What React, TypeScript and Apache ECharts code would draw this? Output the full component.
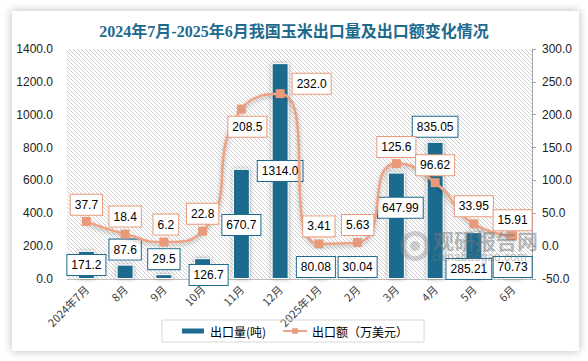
import React, { useEffect, useRef } from "react";
import * as echarts from "echarts";

const categories = ["2024年7月", "8月", "9月", "10月", "11月", "12月", "2025年1月", "2月", "3月", "4月", "5月", "6月"];
const exportVolume = [171.2, 87.6, 29.5, 126.7, 670.7, 1314.0, 80.08, 30.04, 647.99, 835.05, 285.21, 70.73];
const exportValue = [37.7, 18.4, 6.2, 22.8, 208.5, 232.0, 3.41, 5.63, 125.6, 96.62, 33.95, 15.91];
const leftTicks = { min: 0, max: 1400, interval: 200 };
const rightTicks = { min: -50, max: 300, interval: 50 };
const seriesNames = ["出口量(吨)", "出口额（万美元）"];
const titleText = "2024年7月-2025年6月我国玉米出口量及出口额变化情况";

// label placement (layout only)
const barLabelPos = ["insideBottom", "top", "top", "insideBottom", "inside", "inside", "insideBottom", "insideBottom", "inside", "top", "insideBottom", "insideBottom"];
const barLabelOffset = [[0, 1], [0, 0], [0, 0], [6, 11], [0, 1], [0, 0], [-3, 3], [0, 3], [4, -18], [0, 0], [-5, 5], [0, 3]];
const lineLabelPos = ["top", "top", "top", "top", "bottom", "right", "top", "top", "top", "top", "top", "top"];
const lineLabelOffset = [[0, 1], [0, 0], [2, 0], [0, 0], [6, 0], [5, -10], [0, 0], [0, 0], [0, 1], [0, 0], [0, 0], [0, 2]];

const BAR = "#1d6b8e";
const LINE = "#eca283";
const MARK = "#e99a7a";

function fmt(v: number) {
  return Number.isInteger(v) ? v.toFixed(1) : String(v);
}

function hatchPattern(): any {
  const c = document.createElement("canvas");
  c.width = 4;
  c.height = 4;
  const ctx = c.getContext("2d")!;
  ctx.fillStyle = "#ffffff";
  ctx.fillRect(0, 0, 4, 4);
  ctx.fillStyle = "#cfcfcf";
  for (let i = 0; i < 4; i++) ctx.fillRect(i, i, 1, 1);
  return { image: c.toDataURL(), repeat: "repeat", imageWidth: 4, imageHeight: 4 };
}

export default function App() {
  const ref = useRef<HTMLDivElement>(null);
  useEffect(() => {
    document.body.style.margin = "0";
    const chart = echarts.init(ref.current!, null, { renderer: "svg" });
    const labelFont = { fontSize: 12, color: "#000", fontFamily: "Liberation Sans, Arial, sans-serif" };
    const wmZ = 100;
    chart.setOption({
      animation: false,
      title: {
        text: titleText,
        left: "center",
        top: 23,
        padding: 0,
        textStyle: { fontFamily: "Liberation Serif, 'Noto Sans CJK SC', serif", fontWeight: "bold", fontSize: 16, color: "#1e6a8d" },
      },
      legend: {
        top: 320,
        left: "center",
        data: [{ name: seriesNames[0], icon: "rect" }, { name: seriesNames[1] }],
        itemWidth: 24,
        itemHeight: 7,
        itemGap: 16,
        padding: [5, 16, 5, 18],
        borderColor: "#d9d9d9",
        borderWidth: 1,
        textStyle: { fontSize: 12, color: "#000", fontFamily: "'Noto Sans CJK SC', sans-serif" },
      },
      grid: { left: 67, right: 56, top: 49, bottom: 82, show: true, borderWidth: 0, backgroundColor: hatchPattern() },
      xAxis: {
        type: "category",
        data: categories,
        axisLine: { onZero: false, lineStyle: { color: "#bfbfbf", width: 1 } },
        axisTick: { show: false },
        axisLabel: { rotate: 45, margin: 8, fontSize: 11, color: "#404040", interval: 0, fontFamily: "'Noto Sans CJK SC', sans-serif" },
      },
      yAxis: [
        {
          type: "value",
          ...leftTicks,
          axisLine: { show: false },
          axisTick: { show: false },
          splitLine: { show: false },
          axisLabel: { margin: 14, fontSize: 12, color: "#222", formatter: (v: number) => v.toFixed(1), fontFamily: "Liberation Sans, Arial, sans-serif" },
        },
        {
          type: "value",
          ...rightTicks,
          position: "right",
          axisLine: { show: true, lineStyle: { color: "#a6a6a6" } },
          axisTick: { show: true, length: 4, lineStyle: { color: "#a6a6a6" } },
          splitLine: { show: false },
          axisLabel: { margin: 10, fontSize: 12, color: "#222", formatter: (v: number) => v.toFixed(1), fontFamily: "Liberation Sans, Arial, sans-serif" },
        },
      ],
      graphic: [
        {
          type: "group",
          left: 400,
          top: 229,
          silent: true,
          z: wmZ,
          children: [
            { type: "ring", z: wmZ, shape: { cx: 16, cy: 17, r: 15, r0: 10 }, style: { fill: "rgba(130,130,130,0.35)" } },
            { type: "circle", z: wmZ, shape: { cx: 16, cy: 17, r: 5 }, style: { fill: "rgba(130,130,130,0.35)" } },
            { type: "text", z: wmZ, x: 34, y: 0, style: { text: "观研报告网", verticalAlign: "top", fontSize: 21, fontWeight: "bold", fill: "rgba(120,120,120,0.5)", fontFamily: "'Noto Sans CJK SC', sans-serif" } },
            { type: "text", z: wmZ, x: 33, y: 22, style: { text: "chinabaogao.com", verticalAlign: "top", fontSize: 12, fill: "rgba(120,120,120,0.5)", fontFamily: "Liberation Sans, sans-serif" } },
          ],
        },
      ],
      series: [
        {
          name: seriesNames[0],
          type: "bar",
          yAxisIndex: 0,
          barWidth: 17,
          itemStyle: { color: BAR, borderColor: "#ffffff", borderWidth: 1, shadowBlur: 4, shadowColor: "rgba(0,0,0,0.35)" },
          label: {
            show: true,
            formatter: (p: any) => fmt(p.value),
            ...labelFont,
            backgroundColor: "#fff",
            borderColor: BAR,
            borderWidth: 1,
            padding: [4, 4, 4, 4],
            distance: 5,
          },
          data: exportVolume.map((v, i) => ({ value: v, label: { position: barLabelPos[i], offset: barLabelOffset[i] } })),
        },
        {
          name: seriesNames[1],
          type: "line",
          yAxisIndex: 1,
          smooth: 0.6,
          symbol: "rect",
          symbolSize: 9,
          lineStyle: { color: LINE, width: 2.5, shadowBlur: 4, shadowColor: "rgba(0,0,0,0.3)", shadowOffsetY: 2 },
          itemStyle: { color: MARK },
          label: {
            show: true,
            formatter: (p: any) => fmt(p.value),
            ...labelFont,
            backgroundColor: "#fff",
            borderColor: MARK,
            borderWidth: 1,
            padding: [4, 4, 4, 4],
            distance: 3,
          },
          data: exportValue.map((v, i) => ({ value: v, label: { position: lineLabelPos[i], offset: lineLabelOffset[i] } })),
          z: 3,
        },
      ],
    });
    return () => chart.dispose();
  }, []);
  return (
    <div style={{ position: "relative", width: 588, height: 361, background: "#ffffff", overflow: "hidden" }}>
      <div style={{ position: "absolute", left: 12, top: 11, width: 567, height: 340, background: "#fff", boxShadow: "0 0 9px rgba(0,0,0,0.28)" }} />
      <div ref={ref} style={{ position: "absolute", left: 0, top: 0, width: 588, height: 361 }} />
    </div>
  );
}
